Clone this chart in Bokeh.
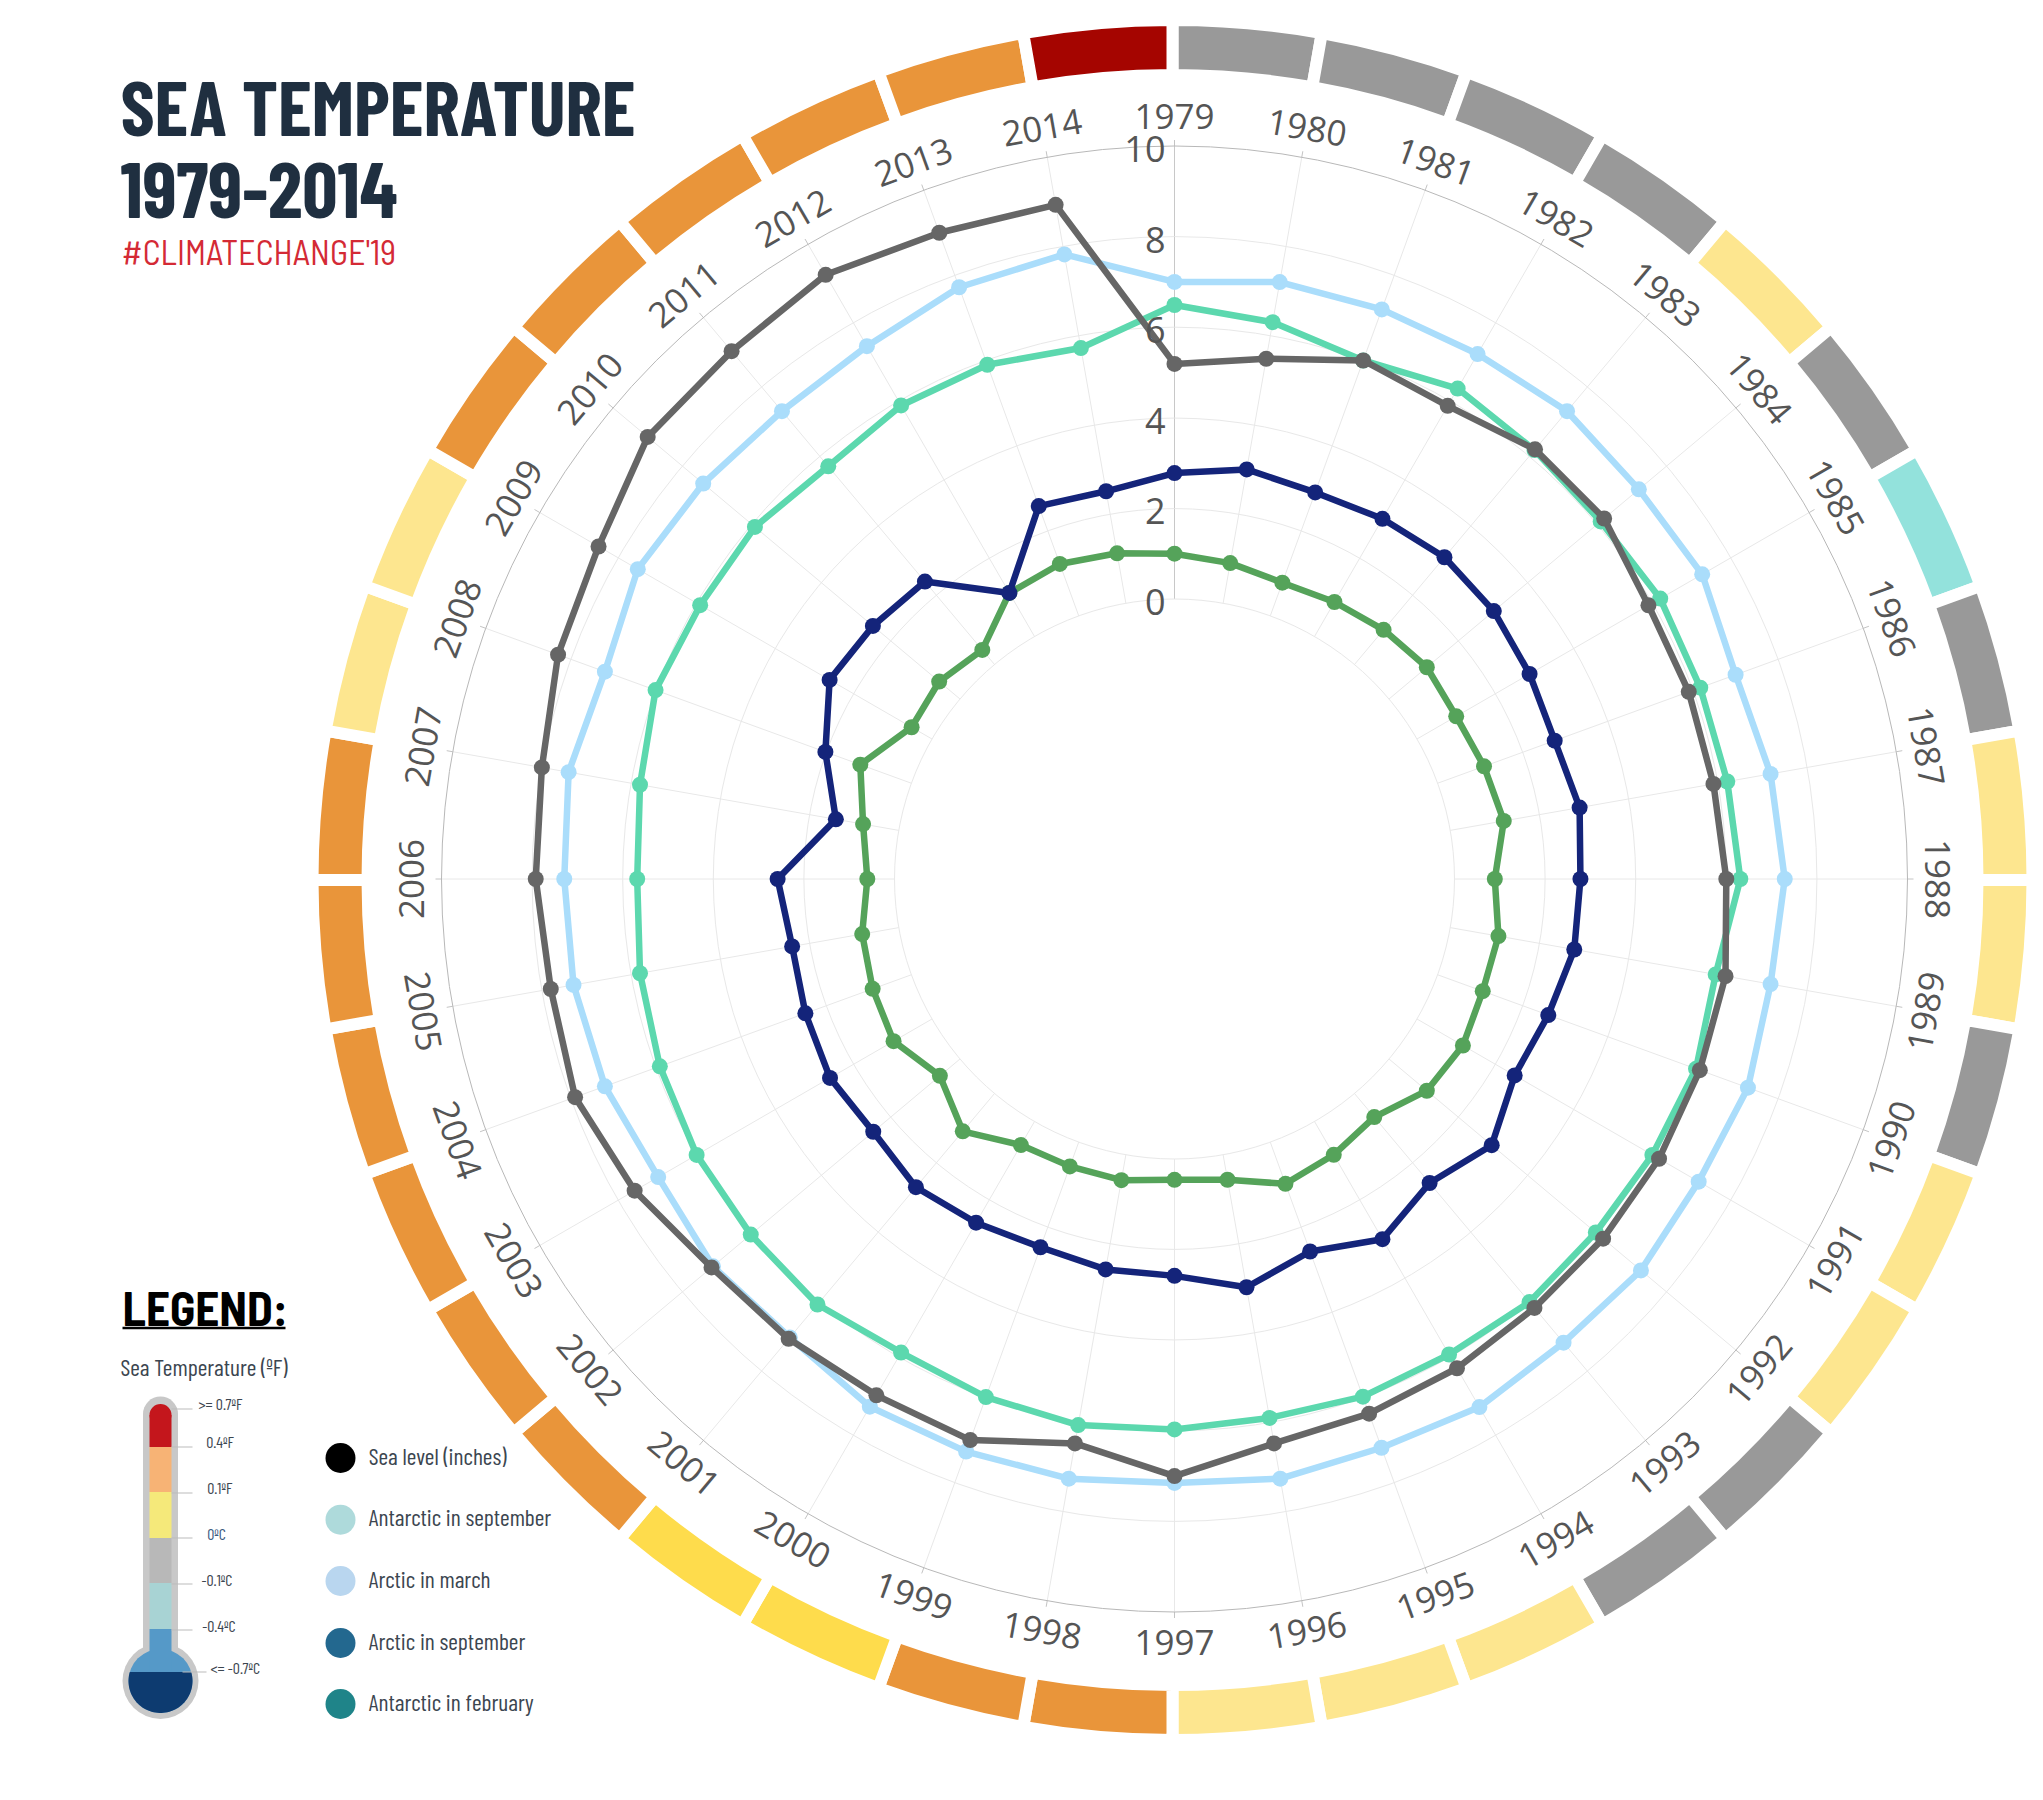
import numpy as np
from bokeh.plotting import figure
from bokeh.embed import file_html
from bokeh.resources import INLINE
from bokeh.core.properties import value

years = list(range(1979, 2015))
sea_level = [5.19,5.48,6.0,5.88,6.2,6.2,5.9,5.9,5.9,6.0,6.17,6.16,6.17,6.17,6.18,6.29,6.38,6.47,7.0,6.47,7.0,6.98,7.07,7.16,7.58,7.9,7.8,7.92,8.0,8.3,8.5,9.0,9.03,9.22,9.0,8.93]
arctic_march = [7.0,7.2,7.2,7.2,7.3,7.2,7.27,7.0,7.18,7.29,7.18,7.29,7.18,7.26,7.18,7.28,7.18,7.26,7.15,7.26,7.27,7.27,7.03,7.12,6.98,7.2,7.29,7.29,7.4,7.2,7.5,7.4,7.3,7.4,7.72,7.82]
antarctic_sep = [6.49,6.3,6.0,6.32,6.18,6.1,6.2,6.17,6.21,6.31,5.95,6.07,6.0,5.96,6.01,5.94,5.98,5.9,5.97,6.06,5.99,5.89,6.08,6.03,6.0,5.91,5.8,5.68,5.8,6.01,5.91,5.91,5.71,5.89,5.9,5.72]
arctic_sep = [2.78,3.0,2.9,3.0,3.09,3.02,2.87,2.75,2.9,2.78,2.78,2.6,2.49,2.96,2.58,3.0,2.57,2.97,2.58,2.57,2.47,2.58,2.7,2.5,2.6,2.49,2.39,2.58,1.41,2.02,2.61,2.51,2.39,1.11,2.58,2.51]
antarctic_feb = [1.0,0.9,0.78,0.88,1.0,1.09,1.0,1.09,1.2,0.89,1.08,1.06,1.17,1.09,0.68,0.85,0.98,0.56,0.46,0.57,0.57,0.6,1.09,0.58,0.98,0.91,0.82,0.6,0.8,1.2,0.52,0.6,0.42,1.11,1.22,1.12]

G, Y, T, O, D, R = "#999999", "#fde68f", "#93e2dc", "#e9953a", "#fedc4c", "#a50500"
year_colors = [G,G,G,G,Y,G,T,G,Y,Y,G,Y,Y,G,G,Y,Y,Y,O,O,D,D,O,O,O,O,O,O,Y,Y,O,O,O,O,O,R]

radial_ticks = [0, 2, 4, 6, 8, 10]
series = [
    ("Antarctic in february", antarctic_feb, "#55a35a"),
    ("Arctic in september", arctic_sep, "#14247a"),
    ("Arctic in march", arctic_march, "#aaddfb"),
    ("Antarctic in september", antarctic_sep, "#5cd8ae"),
    ("Sea level (inches)", sea_level, "#666666"),
]
legend_labels = ["Sea level (inches)", "Antarctic in september", "Arctic in march", "Arctic in september", "Antarctic in february"]
legend_colors = ["#000000", "#aedadb", "#b9d6ef", "#23688f", "#1f8489"]
thermo_bands = ["#c4161c", "#f7b375", "#f5e97a", "#b8b8b8", "#a8d3d4", "#5599c8"]
thermo_labels = [">= 0.7ºF", "0.4ºF", "0.1ºF", "0ºC", "-0.1ºC", "-0.4ºC", "<= -0.7ºC"]

W, H = 2043, 1800
p = figure(width=W, height=H, x_range=(0, W), y_range=(0, H),
           output_backend="svg", toolbar_location=None, min_border=0,
           background_fill_color="white", border_fill_color="white", outline_line_color=None)
p.xaxis.visible = False
p.yaxis.visible = False
p.grid.visible = False

def Y_(py):
    return 1801.5 - np.asarray(py, dtype=float)

CX, CY = 1174.0, Y_(880.0)
R0, UNIT = 280.0, 45.3
theta = np.radians(np.arange(36) * 10.0)
def rad(v):
    return R0 + UNIT * np.asarray(v, dtype=float)
def polar(r, th, cx=CX, cy=CY):
    return cx + r * np.sin(th), cy + r * np.cos(th)

# outer year ring
RCX, RCY, RIN, ROUT, GAP = 1172.0, Y_(881.0), 811.0, 854.0, 12.0
p.annular_wedge(x=[RCX] * 36, y=[RCY] * 36, inner_radius=RIN - GAP / 2, outer_radius=ROUT + GAP / 2,
                start_angle=list(np.pi / 2 - theta), end_angle=list(np.pi / 2 - theta - np.radians(10)),
                direction="clock", fill_color=year_colors, line_color="white", line_width=GAP)

# grid
x0, y0 = polar(rad(0), theta)
x1, y1 = polar(rad(10), theta)
x2, y2 = polar(rad(10) + 6, theta)
p.segment(list(x0), list(y0), list(x1), list(y1), line_color="#e8e8e8", line_width=1)
p.segment(list(x1), list(y1), list(x2), list(y2), line_color="#c4c4c4", line_width=1)
p.segment([x0[0]], [y0[0]], [x1[0]], [y1[0]], line_color="#c8c8c8", line_width=1)
for t in radial_ticks:
    p.circle(x=[CX], y=[CY], radius=float(rad(t)), fill_color=None,
             line_color="#b8b8b8" if t == 10 else "#e8e8e8", line_width=1)

# series
for name, vals, col in series:
    xs, ys = polar(rad(vals), theta)
    xs, ys = list(xs) + [xs[0]], list(ys) + [ys[0]]
    p.line(xs, ys, line_color=col, line_width=6.5, line_join="round")
    p.scatter(xs[:-1], ys[:-1], size=16, fill_color=col, line_color=None)

# year labels
lx, ly = polar(763.0, theta)
rot = []
for k in range(36):
    d = k * 10
    r_cw = d if d <= 90 else (d - 180 if d < 270 else d - 360)
    rot.append(-np.radians(r_cw))
p.text(list(lx), list(ly), text=[str(y) for y in years], angle=rot, text_align="center", text_baseline="middle",
       text_font=value("Open Sans"), text_font_size="35px", text_color="#555555")

# radial tick labels
p.text([CX - 9] * 6, list(CY + rad(radial_ticks) - 3), text=[str(t) for t in radial_ticks], text_align="right",
       text_baseline="middle", text_font=value("Open Sans"), text_font_size="36px", text_color="#555555")

NARROW = "Barlow Condensed"
SEMI = "Barlow Semi Condensed"
def label(x, py, s, size, color, style="normal", font=NARROW):
    p.text([x], [Y_(py)], text=[s], text_font=value(font), text_font_size=size, text_color=color,
           text_font_style=style, text_baseline="middle", text_align="left")

label(120, 106, "SEA TEMPERATURE", "77px", "#1f2f40", "bold")
label(120, 191.5, "1979-2014", "78px", "#1f2f40", "bold")
label(121, 252.5, "#CLIMATECHANGE'19", "34px", "#d42a35", font=SEMI)
label(122, 1307.5, "LEGEND:", "47px", "#000000", "bold", font=SEMI)
p.line([122, 285], list(Y_([1329, 1329])), line_color="#000000", line_width=2.5)
label(120, 1367.5, "Sea Temperature (ºF)", "23.5px", "#3c4650")

# thermometer
TX = 160.0
band_edges = [1416, 1448, 1493, 1539, 1584, 1630, 1690]
tube_w, fill_w = 35.0, 22.0
p.rect([TX], Y_([1548.5]), width=tube_w, height=267, fill_color="#c8c8c8", line_color=None)
p.circle([TX], Y_([1415]), radius=tube_w / 2, fill_color="#c8c8c8", line_color=None)
p.circle([TX], Y_([1682]), radius=38, fill_color="#c8c8c8", line_color=None)
p.circle([TX], Y_([1682]), radius=32, fill_color=thermo_bands[-1], line_color=None)
p.circle([TX], Y_([1416]), radius=fill_w / 2, fill_color=thermo_bands[0], line_color=None)
for i, col in enumerate(thermo_bands):
    top, bot = band_edges[i], band_edges[i + 1]
    p.rect([TX], Y_([(top + bot) / 2]), width=fill_w, height=bot - top, fill_color=col, line_color=None)
a0 = np.arcsin(9 / 32.0)
ang = np.linspace(-a0, np.pi + a0, 60)
chord_x = TX + 32 * np.cos(ang)
chord_y = Y_(1682 + 32 * np.sin(ang))
p.patch(list(chord_x), list(chord_y), fill_color="#0d3b70", line_color=None)
tick_py = [1410, 1448, 1494, 1539, 1585, 1631, 1673]
tick_x0 = [171, 171, 171, 171, 171, 171, 182]
tick_x1 = [192, 192, 192, 192, 192, 192, 206]
p.segment(tick_x0, list(Y_(tick_py)), tick_x1, list(Y_(tick_py)), line_color="#bbbbbb", line_width=1)
tl_x = [198, 205.7, 206.7, 206.7, 201, 201.7, 210]
tl_py = [1404, 1442, 1488, 1534, 1580, 1626, 1668]
tl_col = ["#3c4650", "#3c4650", "#3c4650", "#3a5a80", "#3c4650", "#3c4650", "#3c4650"]
for x, py, s, c in zip(tl_x, tl_py, thermo_labels, tl_col):
    label(x, py, s, "16px", c)

# legend
leg_py = [1459, 1520.7, 1582, 1644, 1705]
p.circle([340] * 5, list(Y_(leg_py)), radius=15, fill_color=legend_colors, line_color=None)
for py, s in zip(leg_py, legend_labels):
    label(368.3, py - 3, s, "23.5px", "#3c4650")

open("out.html", "w").write(file_html(p, INLINE))
